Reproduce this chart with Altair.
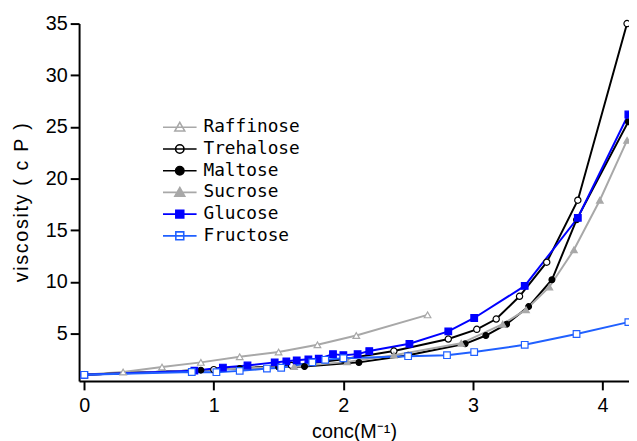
import altair as alt
import pandas as pd

series = ["Raffinose", "Trehalose", "Maltose", "Sucrose", "Glucose", "Fructose"]
colors = ["#a8a8a8", "#000000", "#000000", "#a8a8a8", "#0000ff", "#2060ff"]
fills = ["white", "white", "#000000", "#a8a8a8", "#0000ff", "white"]
marker_shapes = ["triangle-up", "circle", "circle", "triangle-up", "square", "square"]
marker_sizes = [45, 40, 35, 45, 45, 45]

raff_x = [0, 0.3, 0.6, 0.9, 1.2, 1.5, 1.8, 2.1, 2.65]
raff_y = [1.0, 1.27, 1.75, 2.2, 2.75, 3.2, 3.9, 4.8, 6.8]

treh_x = [0, 1.0, 1.6, 2.0, 2.39, 2.81, 3.03, 3.18, 3.36, 3.57, 3.81, 4.19]
treh_y = [1.0, 1.5, 1.9, 2.5, 3.3, 4.46, 5.4, 6.4, 8.6, 11.9, 17.9, 35.0]

malt_x = [0, 0.9, 1.2, 1.5, 1.7, 2.12, 2.5, 2.94, 3.1, 3.26, 3.43, 3.61, 3.8, 4.2]
malt_y = [1.0, 1.45, 1.6, 1.75, 1.8, 2.2, 2.9, 4.0, 4.8, 5.9, 7.6, 10.2, 16.0, 25.5]

sucr_x = [0, 1.62, 2.03, 2.39, 2.91, 3.23, 3.41, 3.59, 3.78, 3.98, 4.19]
sucr_y = [1.0, 1.8, 2.25, 2.9, 4.05, 5.9, 7.3, 9.5, 13.1, 17.9, 23.7]

gluc_x = [0, 0.85, 1.07, 1.26, 1.47, 1.56, 1.64, 1.73, 1.81, 1.92, 2.0, 2.11, 2.2,
          2.51, 2.81, 3.01, 3.40, 3.81, 4.2]
gluc_y = [1.0, 1.4, 1.7, 1.9, 2.2, 2.3, 2.4, 2.5, 2.55, 3.0, 2.9, 3.0, 3.3,
          4.0, 5.2, 6.5, 9.6, 16.2, 26.2]

fruc_x = [0, 0.83, 1.02, 1.2, 1.41, 1.52, 1.76, 1.86, 2.0, 2.5, 2.8, 3.01, 3.40, 3.80, 4.2]
fruc_y = [1.0, 1.27, 1.25, 1.38, 1.6, 1.68, 2.2, 2.45, 2.6, 2.8, 2.9, 3.2, 3.9, 4.95, 6.1]

xs = [raff_x, treh_x, malt_x, sucr_x, gluc_x, fruc_x]
ys = [raff_y, treh_y, malt_y, sucr_y, gluc_y, fruc_y]

rows = []
for name, sx, sy in zip(series, xs, ys):
    for i, (a, b) in enumerate(zip(sx, sy)):
        rows.append({"sugar": name, "conc": a, "visc": b, "order": i})
df = pd.DataFrame(rows)

# legend symbols: line + marker
tri = "M-3.4,0H3.4M0,-1L1,0.75L-1,0.75Z"
circ = "M-3.4,0H3.4M-0.85,0A0.85,0.85 0 1,0 0.85,0A0.85,0.85 0 1,0 -0.85,0Z"
sq = "M-3.4,0H3.4M-0.8,-0.8H0.8V0.8H-0.8Z"
shape_paths = [tri, circ, circ, tri, sq, sq]
legend_fills = ["transparent", "transparent", "#000000", "#a8a8a8", "#0000ff", "transparent"]

x_enc = alt.X("conc:Q", scale=alt.Scale(domain=[-0.04, 4.205], nice=False, zero=False),
              axis=alt.Axis(values=[0, 1, 2, 3, 4], title="conc(M\u207b\u00b9)", format="d",
                            titlePadding=6, labelPadding=6))
y_enc = alt.Y("visc:Q", scale=alt.Scale(domain=[0.4, 35], nice=False, zero=False),
              axis=alt.Axis(values=[5, 10, 15, 20, 25, 30, 35],
                            title="\u200av\u200ai\u200as\u200ac\u200ao\u200as\u200ai\u200at\u200ay\u200a \u200a(\u200a \u200ac\u200a \u200aP\u200a \u200a)",
                            titlePadding=14))

base = alt.Chart(df)

layers = []
for i, name in enumerate(series):
    sub = base.transform_filter(alt.datum.sugar == name)
    layers.append(sub.mark_line(strokeWidth=2, color=colors[i]).encode(
        x=x_enc, y=y_enc, order="order:Q"))
for i, name in enumerate(series):
    sub = base.transform_filter(alt.datum.sugar == name)
    layers.append(sub.mark_point(shape=marker_shapes[i], size=marker_sizes[i],
                                 strokeWidth=1.2, stroke=colors[i], fill=fills[i],
                                 opacity=1).encode(x="conc:Q", y="visc:Q"))

def make_legend():
    return alt.Legend(
        title=None, orient="none", legendX=93, legendY=96, direction="vertical",
        labelFont="DejaVu Sans Mono", labelFontSize=18, labelColor="black",
        symbolSize=100, symbolOpacity=1, symbolStrokeWidth=1.6, labelOffset=15,
        symbolFillColor="white", symbolStrokeColor="black",
        rowPadding=4, padding=0, labelLimit=300)

legend_layer = base.mark_point(size=100, strokeWidth=1.5, filled=True).encode(
    x="conc:Q", y="visc:Q",
    stroke=alt.Stroke("sugar:N", scale=alt.Scale(domain=series, range=colors),
                      legend=make_legend()),
    fill=alt.Fill("sugar:N", scale=alt.Scale(domain=series, range=legend_fills),
                  legend=make_legend()),
    shape=alt.Shape("sugar:N", scale=alt.Scale(domain=series, range=shape_paths),
                    legend=make_legend()),
    opacity=alt.value(0),
)
layers.append(legend_layer)

chart = alt.layer(*layers).properties(
    width=557, height=362,
    autosize=alt.AutoSizeParams(type="none"),
    padding={"left": 72, "top": 13, "right": 0, "bottom": 58},
).configure_view(stroke=None).configure_axis(
    grid=False, domainColor="black", domainWidth=2, tickColor="black", tickWidth=2,
    tickSize=9, labelColor="black", titleColor="black", labelFont="Liberation Sans",
    titleFont="Liberation Sans", labelFontSize=20, titleFontSize=20, titleFontWeight="normal",
    labelPadding=4,
).configure_axisY(labelPadding=3)

chart.save("out.html", embed_options={"renderer": "svg", "actions": False})
